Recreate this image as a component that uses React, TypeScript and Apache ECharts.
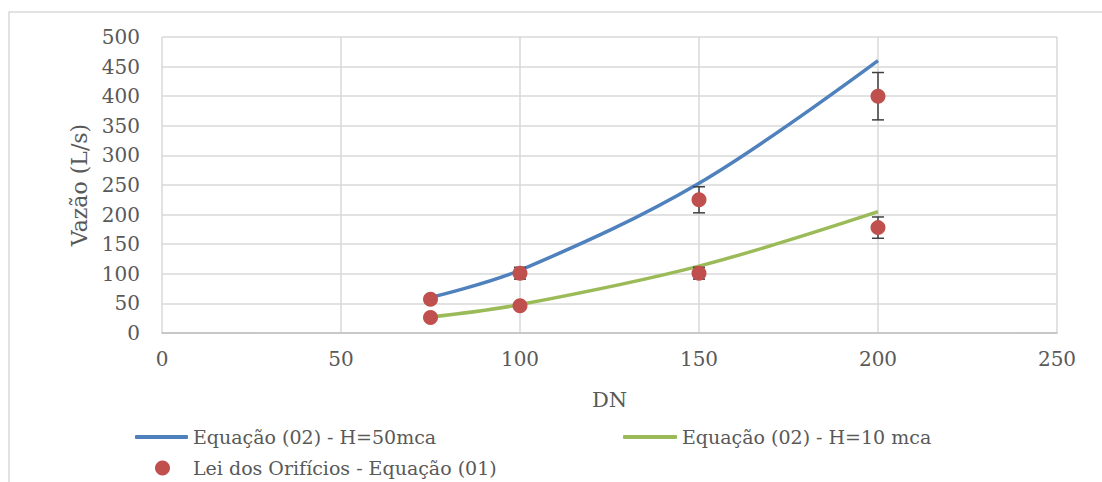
import React, { useEffect, useRef } from "react";
import * as echarts from "echarts";

const dnValues = [75, 100, 150, 200];
const h50Values = [60, 106, 253, 460];
const h10Values = [27, 48, 113, 205];
const orificeDN = [75, 100, 150, 200, 75, 100, 150, 200];
const orificeValues = [57, 101, 225, 400, 26, 46, 101, 178];
const orificeError = [6, 10, 22, 40, 3, 5, 10, 18];
const xTicks = { min: 0, max: 250, interval: 50 };
const yTicks = { min: 0, max: 500, interval: 50 };

const NAME_H50 = "Equação (02) - H=50mca";
const NAME_H10 = "Equação (02) - H=10 mca";
const NAME_ORI = "Lei dos Orifícios - Equação (01)";

const TEXT = "#595959";
const FONT = "'DejaVu Serif', 'Liberation Serif', serif";

export default function App() {
  const ref = useRef<HTMLDivElement>(null);
  useEffect(() => {
    if (!ref.current) return;
    const chart = echarts.init(ref.current, null, { renderer: "svg" });
    const errData = orificeDN.map((x, i) => [x, orificeValues[i] - orificeError[i], orificeValues[i] + orificeError[i]]);
    const legendText = { color: TEXT, fontSize: 19, fontFamily: FONT, lineHeight: 22 };
    chart.setOption({
      animation: false,
      backgroundColor: "#ffffff",
      grid: { left: 162, right: 45, top: 37, bottom: 149 },
      graphic: [
        {
          type: "rect",
          silent: true,
          shape: { x: 9, y: 12, width: 1300, height: 700 },
          style: { fill: "none", stroke: "#D9D9D9", lineWidth: 1.5 },
        },
      ],
      legend: [
        {
          data: [NAME_H50], left: 135, top: 426, itemWidth: 53, itemHeight: 4, icon: "roundRect",
          textStyle: legendText, padding: 0,
        },
        {
          data: [NAME_H10], left: 623, top: 426, itemWidth: 54, itemHeight: 4, icon: "roundRect",
          textStyle: legendText, padding: 0,
        },
        {
          data: [NAME_ORI], left: 155, top: 457, itemWidth: 15, itemHeight: 15, icon: "circle",
          textStyle: { ...legendText, padding: [0, 0, 0, 18] }, padding: 0,
        },
      ],
      xAxis: {
        type: "value",
        min: xTicks.min, max: xTicks.max, interval: xTicks.interval,
        name: "DN", nameLocation: "middle", nameGap: 56,
        nameTextStyle: { color: TEXT, fontSize: 21, fontFamily: FONT },
        axisLine: { show: true, lineStyle: { color: "#BFBFBF", width: 1.5 } },
        axisTick: { show: false },
        axisLabel: { color: TEXT, fontSize: 20, fontFamily: FONT, margin: 16 },
        splitLine: { show: true, lineStyle: { color: "#D9D9D9", width: 1.5 } },
      },
      yAxis: {
        type: "value",
        min: yTicks.min, max: yTicks.max, interval: yTicks.interval,
        name: "Vazão (L/s)", nameLocation: "middle", nameGap: 70,
        nameTextStyle: { color: TEXT, fontSize: 22, fontFamily: FONT },
        axisLine: { show: false },
        axisTick: { show: false },
        axisLabel: { color: TEXT, fontSize: 20, fontFamily: FONT, margin: 22 },
        splitLine: { show: true, lineStyle: { color: "#D9D9D9", width: 1.5 } },
      },
      series: [
        {
          name: NAME_H50, type: "line", smooth: 0.35, symbol: "none", showSymbol: false,
          data: dnValues.map((x, i) => [x, h50Values[i]]),
          lineStyle: { color: "#4F81BD", width: 3.5 }, itemStyle: { color: "#4F81BD" }, z: 2,
        },
        {
          name: NAME_H10, type: "line", smooth: 0.35, symbol: "none", showSymbol: false,
          data: dnValues.map((x, i) => [x, h10Values[i]]),
          lineStyle: { color: "#9BBB59", width: 3.5 }, itemStyle: { color: "#9BBB59" }, z: 2,
        },
        {
          name: "err", type: "custom", z: 3, silent: true,
          data: errData,
          renderItem: (params: any, api: any) => {
            const x = api.value(0);
            const lo = api.coord([x, api.value(1)]);
            const hi = api.coord([x, api.value(2)]);
            const w = 6;
            const st = { stroke: "#404040", lineWidth: 1.5 };
            return {
              type: "group",
              children: [
                { type: "line", shape: { x1: lo[0], y1: lo[1], x2: hi[0], y2: hi[1] }, style: st },
                { type: "line", shape: { x1: lo[0] - w, y1: lo[1], x2: lo[0] + w, y2: lo[1] }, style: st },
                { type: "line", shape: { x1: hi[0] - w, y1: hi[1], x2: hi[0] + w, y2: hi[1] }, style: st },
              ],
            };
          },
        },
        {
          name: NAME_ORI, type: "scatter", symbol: "circle", symbolSize: 15, z: 4,
          data: orificeDN.map((x, i) => [x, orificeValues[i]]),
          itemStyle: { color: "#C0504D", opacity: 1 },
        },
      ],
    });
    return () => chart.dispose();
  }, []);
  return (
    <div
      ref={ref}
      style={{ position: "fixed", left: 0, top: 0, width: 1102, height: 482 }}
    />
  );
}
